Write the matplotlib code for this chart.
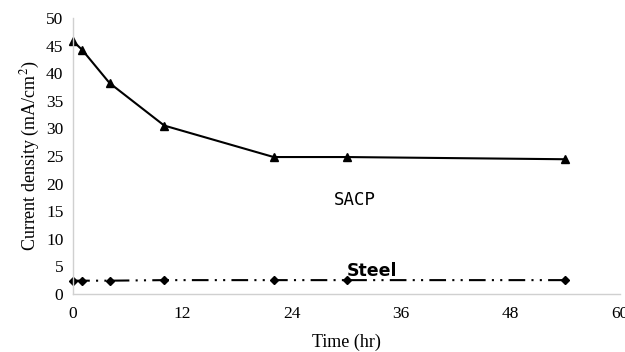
import numpy as np
import matplotlib
matplotlib.use('Agg')
import matplotlib.pyplot as plt

# data
time_hr = [0, 1, 4, 10, 22, 30, 54]
sacp = [45.8, 44.2, 38.2, 30.5, 24.8, 24.8, 24.4]
steel = [2.4, 2.4, 2.4, 2.5, 2.5, 2.5, 2.5]
x_ticks = [0, 12, 24, 36, 48, 60]
y_ticks = [0, 5, 10, 15, 20, 25, 30, 35, 40, 45, 50]

plt.rcParams['font.family'] = ['Liberation Serif', 'DejaVu Serif']
plt.rcParams['mathtext.fontset'] = 'stix'

fig = plt.figure(figsize=(6.25, 3.52), dpi=100)
ax = fig.add_axes([0.117, 0.165, 0.875, 0.784])

ax.plot(time_hr, sacp, color='black', lw=1.5, marker='^', ms=6, clip_on=False)
ax.plot(time_hr, steel, color='black', lw=1.5, marker='D', ms=4.5,
        dashes=(8, 3, 1, 3, 1, 3), clip_on=False)

ax.text(30.9, 17.0, 'SACP', family='DejaVu Sans Mono', fontsize=12.5,
        ha='center', va='center')
ax.text(32.8, 4.2, 'Steel', family='DejaVu Sans', fontweight='bold',
        fontsize=12.5, ha='center', va='center')

ax.set_xlim(0, 60)
ax.set_ylim(0, 50)
ax.set_xticks(x_ticks)
ax.set_yticks(y_ticks)
ax.tick_params(length=0, labelsize=12.5, pad=7)
ax.tick_params(axis='x', pad=9)

for side in ['top', 'right']:
    ax.spines[side].set_visible(False)
for side in ['left', 'bottom']:
    ax.spines[side].set_color('#d0d0d0')
    ax.spines[side].set_linewidth(1)

ax.set_xlabel('Time (hr)', fontsize=13, labelpad=8)
ax.set_ylabel('Current density (mA/cm$^2$)', fontsize=13, labelpad=3)

fig.savefig('out.png', dpi=100)
